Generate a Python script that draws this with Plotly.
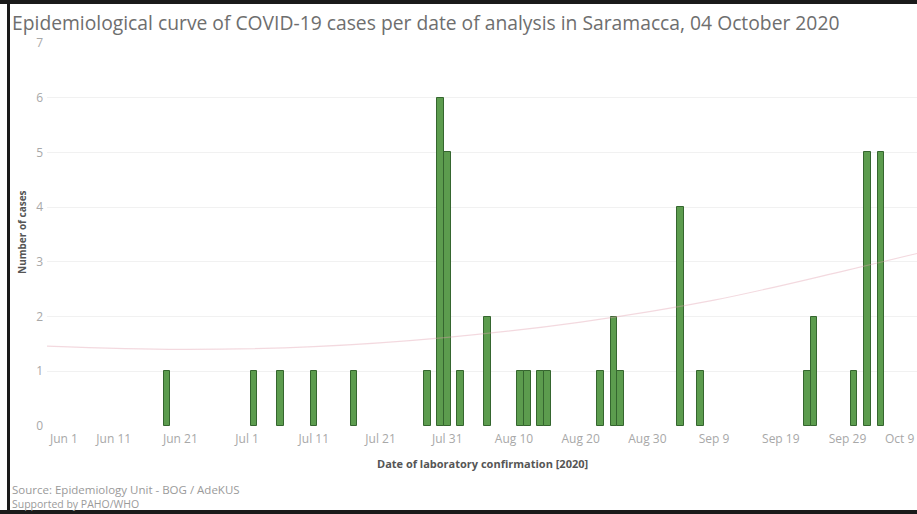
import plotly.graph_objects as go

# ---- data ----
dates = ["2020-06-19", "2020-07-02", "2020-07-06", "2020-07-11", "2020-07-17",
         "2020-07-28", "2020-07-30", "2020-07-31", "2020-08-02", "2020-08-06",
         "2020-08-11", "2020-08-12", "2020-08-14", "2020-08-15", "2020-08-23",
         "2020-08-25", "2020-08-26", "2020-09-04", "2020-09-07", "2020-09-23",
         "2020-09-24", "2020-09-30", "2020-10-02", "2020-10-04"]
cases = [1, 1, 1, 1, 1, 1, 6, 5, 1, 2, 1, 1, 1, 1, 1, 2, 1, 4, 1, 1, 2, 1, 5, 5]

trend_dates = ["2020-06-01", "2020-06-21", "2020-07-11", "2020-07-31",
               "2020-08-20", "2020-09-09", "2020-09-29", "2020-10-10"]
trend_vals = [1.46, 1.40, 1.45, 1.62, 1.90, 2.30, 2.85, 3.17]

tick_dates = ["2020-06-01", "2020-06-11", "2020-06-21", "2020-07-01", "2020-07-11",
              "2020-07-21", "2020-07-31", "2020-08-10", "2020-08-20", "2020-08-30",
              "2020-09-09", "2020-09-19", "2020-09-29", "2020-10-09"]
tick_labels = ["Jun 1", "Jun 11", "Jun 21", "Jul 1", "Jul 11", "Jul 21", "Jul 31",
               "Aug 10", "Aug 20", "Aug 30", "Sep 9", "Sep 19", "Sep 29", "Oct 9"]

title_text = "Epidemiological curve of COVID-19 cases per date of analysis in Saramacca, 04 October 2020"
x_title = "Date of laboratory confirmation [2020]"
y_title = "Number of cases"
source1 = "Source: Epidemiology Unit - BOG / AdeKUS"
source2 = "Supported by PAHO/WHO"

W, H = 917, 514
ML, MR, MT, MB = 47, 0, 43, 88
PW, PH = W - ML - MR, H - MT - MB

def px(xp):
    return (xp - ML) / PW

def py(yp):
    return 1 - (yp - MT) / PH

DAY = 86400000
fig = go.Figure()
fig.add_trace(go.Scatter(
    x=trend_dates, y=trend_vals, mode="lines",
    line=dict(color="rgba(225,160,175,0.4)", width=1.2, shape="spline"),
    hoverinfo="skip", showlegend=False))
fig.add_trace(go.Bar(
    x=dates, y=cases, width=DAY * 0.98,
    marker=dict(color="#5c9c4e", line=dict(color="#35662f", width=1)),
    showlegend=False))

fig.update_layout(
    width=W, height=H,
    margin=dict(l=ML, r=MR, t=MT, b=MB),
    paper_bgcolor="white", plot_bgcolor="white",
    font=dict(family="Open Sans", color="#999"),
    bargap=0,
    xaxis=dict(
        type="date",
        range=["2020-06-01", "2020-10-09 10:00"],
        tickvals=tick_dates[1:-1], ticktext=tick_labels[1:-1],
        tickfont=dict(size=12, color="#a8a8a8"),
        showgrid=False, zeroline=False, showline=False, ticks="",
        ticklabelstandoff=4,
    ),
    yaxis=dict(
        range=[0, 7], dtick=1,
        tickfont=dict(size=12, color="#a8a8a8"),
        gridcolor="#f1f1f1", gridwidth=1, zeroline=False, showline=False,
        ticks="", ticklabelstandoff=3,
    ),
)

tick_font = dict(family="Open Sans", size=12, color="#a8a8a8")
ann = [
    dict(text=title_text, x=px(10), y=py(22), xref="paper", yref="paper",
         xanchor="left", yanchor="middle", showarrow=False,
         font=dict(family="Open Sans", size=19.3, color="#6e6e6e")),
    dict(text=tick_labels[0], x=px(63), y=py(438), xref="paper", yref="paper",
         xanchor="center", yanchor="middle", showarrow=False, font=tick_font),
    dict(text=tick_labels[-1], x=px(916), y=py(438), xref="paper", yref="paper",
         xanchor="right", yanchor="middle", showarrow=False, font=tick_font),
    dict(text="<b>" + x_title + "</b>", x=px(482), y=py(463), xref="paper", yref="paper",
         xanchor="center", yanchor="middle", showarrow=False,
         font=dict(family="Open Sans", size=11, color="#555")),
    dict(text="<b>" + y_title + "</b>", x=px(22), y=py(232), xref="paper", yref="paper",
         xanchor="center", yanchor="middle", showarrow=False, textangle=-90,
         font=dict(family="Open Sans", size=10, color="#555")),
    dict(text=source1, x=px(10), y=py(489), xref="paper", yref="paper",
         xanchor="left", yanchor="middle", showarrow=False,
         font=dict(family="Open Sans", size=11.5, color="#9a9a9a")),
    dict(text=source2, x=px(10), y=py(504), xref="paper", yref="paper",
         xanchor="left", yanchor="middle", showarrow=False,
         font=dict(family="Open Sans", size=10.5, color="#9a9a9a")),
]
fig.update_layout(annotations=ann)

shapes = [
    dict(type="rect", xref="paper", yref="paper", x0=px(0), x1=px(W + 5), y0=py(-2), y1=py(4),
         fillcolor="#1a1a1a", line=dict(width=0), layer="above"),
    dict(type="rect", xref="paper", yref="paper", x0=px(7), x1=px(10), y0=py(0), y1=py(H),
         fillcolor="#1a1a1a", line=dict(width=0), layer="above"),
    dict(type="rect", xref="paper", yref="paper", x0=px(0), x1=px(W + 5), y0=py(510), y1=py(H + 2),
         fillcolor="#1a1a1a", line=dict(width=0), layer="above"),
]
fig.update_layout(shapes=shapes)

fig.write_html("out.html",
               config={"displayModeBar": False},
               post_script="document.body.style.margin='0px';document.body.style.overflow='hidden';")
